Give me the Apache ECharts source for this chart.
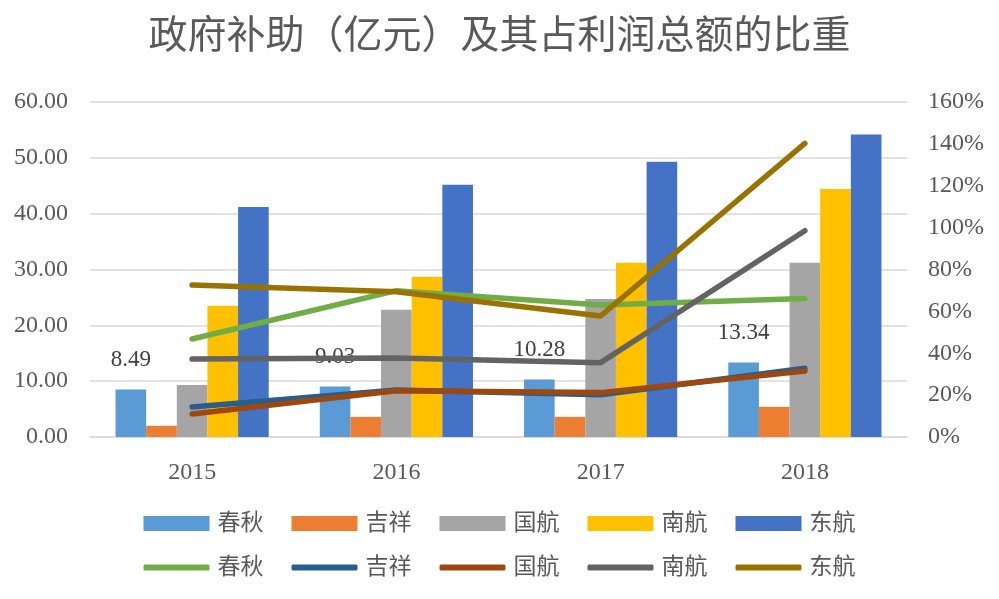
<!DOCTYPE html>
<html>
<head>
<meta charset="utf-8">
<title>政府补助及其占利润总额的比重</title>
<script src="https://cdn.jsdelivr.net/npm/echarts@6/dist/echarts.min.js"></script>
<style>
  html, body { margin: 0; padding: 0; background: #fff; }
  #chart { width: 999px; height: 599px; }
</style>
</head>
<body>
<div id="chart"></div>
<script>
// data
const years = ['2015', '2016', '2017', '2018'];
const airlines = ['春秋', '吉祥', '国航', '南航', '东航'];

// government subsidy, 亿元
const subsidyChunqiu = [8.49, 9.03, 10.28, 13.34];
const subsidyJixiang = [2.0, 3.6, 3.6, 5.4];
const subsidyGuohang = [9.3, 22.8, 24.7, 31.2];
const subsidyNanhang = [23.5, 28.7, 31.2, 44.4];
const subsidyDonghang = [41.2, 45.2, 49.3, 54.2];

// share of total profit, %
const shareChunqiu = [46.8, 69.9, 63.0, 66.2];
const shareJixiang = [14.3, 22.5, 20.2, 32.8];
const shareGuohang = [11.0, 22.1, 21.2, 31.5];
const shareNanhang = [37.2, 37.7, 35.5, 98.5];
const shareDonghang = [72.6, 69.4, 57.8, 140.2];

const leftTicks = { min: 0, max: 60, step: 10 };
const rightTicks = { min: 0, max: 160, step: 20 };

const barColors = ['#5B9BD5', '#ED7D31', '#A5A5A5', '#FFC000', '#4472C4'];
const lineColors = ['#70AD47', '#255E91', '#9E480E', '#636363', '#997300'];

const subsidies = [subsidyChunqiu, subsidyJixiang, subsidyGuohang, subsidyNanhang, subsidyDonghang];
const shares = [shareChunqiu, shareJixiang, shareGuohang, shareNanhang, shareDonghang];

const FONT = "'Liberation Serif', 'Noto Sans CJK SC', serif";
const TEXT = '#595959';
const SUFFIX = '比重';

const chart = echarts.init(document.getElementById('chart'));

const barSeries = airlines.map((name, i) => ({
  name: name,
  type: 'bar',
  yAxisIndex: 0,
  data: subsidies[i],
  barGap: '0%',
  barCategoryGap: '25%',
  itemStyle: { color: barColors[i] },
  label: i === 0 ? {
    show: true,
    position: 'top',
    distance: 18,
    formatter: (p) => p.value.toFixed(2),
    fontFamily: FONT,
    fontSize: 23,
    color: '#404040'
  } : { show: false }
}));

const lineSeries = airlines.map((name, i) => ({
  name: name + SUFFIX,
  type: 'line',
  yAxisIndex: 1,
  data: shares[i],
  showSymbol: false,
  symbol: 'none',
  itemStyle: { color: lineColors[i] },
  lineStyle: { color: lineColors[i], width: 5.5, cap: 'round', join: 'round' },
  z: 3
}));

const legendBase = {
  left: 'center',
  itemWidth: 66,
  itemGap: 28,
  formatter: (name) => name.replace(SUFFIX, ''),
  textStyle: { fontFamily: FONT, fontSize: 23, color: TEXT, padding: [0, 0, 0, 3] }
};

const option = {
  animation: false,
  backgroundColor: '#fff',
  title: {
    text: '政府补助（亿元）及其占利润总额的比重',
    left: 'center',
    top: 13,
    textStyle: { fontFamily: FONT, fontSize: 39, fontWeight: 'normal', color: TEXT }
  },
  legend: [
    Object.assign({}, legendBase, {
      top: 507,
      data: airlines,
      icon: 'rect',
      itemHeight: 15
    }),
    Object.assign({}, legendBase, {
      top: 551,
      data: airlines.map(n => n + SUFFIX),
      icon: 'roundRect',
      itemHeight: 6
    })
  ],
  grid: { left: 90, right: 92, top: 102, bottom: 162 },
  xAxis: {
    type: 'category',
    data: years,
    axisLine: { show: true, lineStyle: { color: '#d9d9d9', width: 1.5 } },
    axisTick: { show: false },
    axisLabel: { fontFamily: FONT, fontSize: 24, color: TEXT, margin: 24 }
  },
  yAxis: [
    {
      type: 'value',
      min: leftTicks.min,
      max: leftTicks.max,
      interval: leftTicks.step,
      axisLine: { show: false },
      axisTick: { show: false },
      splitLine: { lineStyle: { color: '#d9d9d9', width: 1.5 } },
      axisLabel: {
        fontFamily: FONT, fontSize: 24, color: TEXT, margin: 22,
        formatter: (v) => v.toFixed(2)
      }
    },
    {
      type: 'value',
      min: rightTicks.min,
      max: rightTicks.max,
      interval: rightTicks.step,
      position: 'right',
      axisLine: { show: false },
      axisTick: { show: false },
      splitLine: { show: false },
      axisLabel: {
        fontFamily: FONT, fontSize: 24, color: TEXT, margin: 21,
        formatter: (v) => v + '%'
      }
    }
  ],
  series: barSeries.concat(lineSeries)
};

chart.setOption(option);
window.addEventListener('resize', () => chart.resize());
</script>
</body>
</html>
